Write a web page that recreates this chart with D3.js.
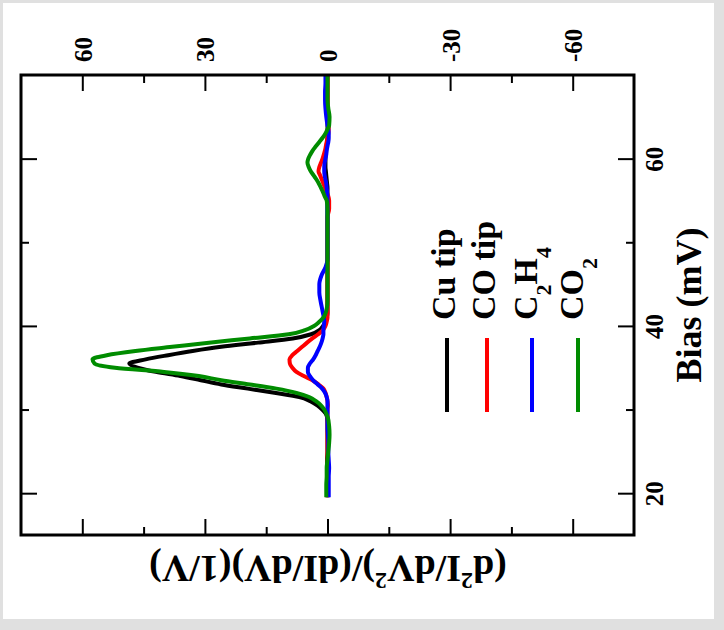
<!DOCTYPE html>
<html>
<head>
<meta charset="utf-8">
<script src="https://cdn.jsdelivr.net/npm/d3@7"></script>
<style>
  html, body { margin: 0; padding: 0; background: #e0e0e0; }
  svg { display: block; }
  text { font-family: "Liberation Serif", "Times New Roman", serif; font-weight: bold; fill: #000; }
</style>
</head>
<body>
<svg id="chart" width="724" height="630"></svg>
<script>
// ---------------- data ----------------
const bias = [19.5, 21, 22, 23, 24, 25, 26, 27, 28,
  29, 29.5, 30, 30.5, 31, 31.5, 32, 32.5, 33, 33.5, 34, 34.5, 35, 35.5, 36, 36.5, 37, 37.5, 38, 38.5, 39, 39.5, 40, 40.5, 41, 41.5, 42,
  43, 44, 45, 46, 47, 48, 49, 50, 51, 52, 53, 54, 55,
  55.5, 56, 56.5, 57, 57.5, 58, 58.5, 59, 59.5, 60, 60.5, 61, 61.5, 62, 62.5, 63, 63.5, 64,
  65, 66, 67, 68, 69, 70];

const cuTip = [0, 0, 0, 0.1, 0.1, 0, 0, 0, 0,
  0.1, 0.4, 1.3, 2.5, 4.2, 6.9, 13, 19.5, 26, 31, 36, 42, 46.5, 48.5, 44.5, 39, 33, 26, 17, 8.5, 4, 2, 1.1, 0.5, 0.2, 0, 0,
  0, 0, 0, 0, 0, 0, 0, 0, 0, 0, 0, 0, 0,
  0, 0, 0, 0.1, 0.2, 0.3, 0.4, 0.5, 0.5, 0.5, 0.4, 0.3, 0.2, 0.1, 0, 0, 0, 0,
  0, 0, 0, 0, 0, 0];

const coTip = [0, 0, 0, 0, 0, 0, 0, 0, 0,
  0, 0, 0, -0.1, 0, 0.2, 0.5, 1, 2.2, 3.7, 5.8, 7.6, 8.6, 9.2, 9.3, 8.6, 7.4, 6.2, 5, 3.7, 2.3, 1.1, 0.5, 0.2, 0, 0, 0,
  0, 0, 0, 0, 0, 0, 0, 0, 0, 0, 0, -0.4, -0.4,
  -0.2, 0.2, 0.6, 1.0, 1.4, 1.8, 2.2, 2.0, 1.6, 1.2, 0.9, 0.6, 0.4, 0.2, 0, -0.2, -0.3, -0.3,
  -0.1, 0, 0, 0, 0, 0];

const c2h4 = [-0.3, -0.3, -0.3, -0.4, -0.3, -0.2, -0.2, -0.1, 0,
  0, 0, 0, 0, 0, 0.2, 0.6, 1.3, 2.4, 3.5, 4.3, 4.8, 4.8, 4.3, 3.5, 2.9, 2.4, 1.9, 1.5, 1.2, 1.0, 1.0, 0.9, 0.8, 0.9, 1.1, 1.3,
  1.7, 2, 2, 1.5, 0.5, 0, 0, 0, 0, 0, 0, 0, 0,
  0, 0.1, 0.2, 0.3, 0.5, 0.7, 0.8, 0.8, 0.7, 0.5, 0.3, 0.2, 0, -0.2, -0.3, -0.3, -0.2, 0,
  0.3, 0.5, 0.6, 0.6, 0.5, 0.5];

const co2 = [0.3, 0.3, 0.2, 0.2, 0, -0.2, -0.4, -0.5, -0.4,
  -0.1, 0.3, 0.8, 1.6, 2.8, 4.5, 7.6, 12.5, 19, 26, 31.5, 40, 52, 57, 57.5, 54, 47, 38, 29, 19, 9.5, 5.5, 3.3, 2, 1, 0.5, 0.2,
  0, 0, 0, 0, 0, 0, 0, 0, 0, 0, 0, 0, 0.2,
  0.7, 1.1, 1.6, 2.1, 2.7, 3.4, 4.1, 4.6, 4.9, 4.7, 4.2, 3.6, 2.8, 2.0, 1.2, 0.5, 0, -0.4,
  -0.5, -0.2, 0, 0, 0, 0];

const seriesLabels = ["Cu tip", "CO tip", "C_2H_4", "CO_2"];
const seriesValues = [cuTip, coTip, c2h4, co2];
const seriesColors = ["#000000", "#ff0000", "#0000ff", "#008c00"];

const valueTicks = [60, 30, 0, -30, -60];
const valueMinorTicks = [45, 15, -15, -45];
const biasTicks = [20, 40, 60];
const biasMinorTicks = [30, 50];

const biasTitle = "Bias (mV)";

// ---------------- layout ----------------
(function draw() {
const W = 724, H = 630;
const pLeft = 21, pRight = 634, pTop = 75, pBottom = 535;

const svg = d3.select("#chart");
svg.append("rect").attr("x", 0).attr("y", 0).attr("width", W).attr("height", H).attr("fill", "#e0e0e0");
svg.append("rect").attr("x", 3).attr("y", 3).attr("width", 711).attr("height", 616).attr("fill", "#ffffff");

// value axis is horizontal (reversed), bias axis vertical
const x = d3.scaleLinear().domain([75, -75]).range([pLeft, pRight]);
const y = d3.scaleLinear().domain([15, 70]).range([pBottom, pTop]);

function styleAxis(g) {
  g.select(".domain").remove();
  g.selectAll(".tick line").attr("stroke", "#000").attr("stroke-width", 2);
}
const fontStyle = sel => sel
  .style("font-size", "25px")
  .style("font-family", "'Liberation Serif', 'Times New Roman', serif")
  .style("font-weight", "bold")
  .attr("fill", "#000");

// top axis with labels
const gTop = svg.append("g").attr("transform", `translate(0,${pTop})`)
  .call(d3.axisTop(x).tickValues(valueTicks).tickSizeInner(-16).tickSizeOuter(0).tickFormat(d => String(d)))
  .call(styleAxis);
gTop.selectAll(".tick text")
  .attr("transform", "rotate(-90)")
  .attr("x", 13).attr("y", 0).attr("dy", "0.36em")
  .attr("text-anchor", "start")
  .call(fontStyle);
svg.append("g").attr("transform", `translate(0,${pTop})`)
  .call(d3.axisTop(x).tickValues(valueMinorTicks).tickSizeInner(-8).tickSizeOuter(0).tickFormat(""))
  .call(styleAxis);

// bottom axis (mirror ticks)
svg.append("g").attr("transform", `translate(0,${pBottom})`)
  .call(d3.axisBottom(x).tickValues(valueTicks).tickSizeInner(-16).tickSizeOuter(0).tickFormat(""))
  .call(styleAxis);
svg.append("g").attr("transform", `translate(0,${pBottom})`)
  .call(d3.axisBottom(x).tickValues(valueMinorTicks).tickSizeInner(-8).tickSizeOuter(0).tickFormat(""))
  .call(styleAxis);

// right axis with labels
const gRight = svg.append("g").attr("transform", `translate(${pRight},0)`)
  .call(d3.axisRight(y).tickValues(biasTicks).tickSizeInner(-16).tickSizeOuter(0).tickFormat(d => String(d)))
  .call(styleAxis);
gRight.selectAll(".tick text")
  .attr("transform", "rotate(-90)")
  .attr("x", 0).attr("y", 29).attr("dy", 0)
  .attr("text-anchor", "middle")
  .call(fontStyle);
svg.append("g").attr("transform", `translate(${pRight},0)`)
  .call(d3.axisRight(y).tickValues(biasMinorTicks).tickSizeInner(-8).tickSizeOuter(0).tickFormat(""))
  .call(styleAxis);

// left axis (mirror ticks)
svg.append("g").attr("transform", `translate(${pLeft},0)`)
  .call(d3.axisLeft(y).tickValues(biasTicks).tickSizeInner(-16).tickSizeOuter(0).tickFormat(""))
  .call(styleAxis);
svg.append("g").attr("transform", `translate(${pLeft},0)`)
  .call(d3.axisLeft(y).tickValues(biasMinorTicks).tickSizeInner(-8).tickSizeOuter(0).tickFormat(""))
  .call(styleAxis);

// curves
const line = d3.line()
  .x(d => x(d.v))
  .y(d => y(d.b))
  .curve(d3.curveMonotoneY);

seriesValues.forEach((vals, i) => {
  const pts = bias.map((b, k) => ({ b: b, v: vals[k] })).reverse();
  svg.append("path")
    .datum(pts)
    .attr("d", line)
    .attr("fill", "none")
    .attr("stroke", seriesColors[i])
    .attr("stroke-width", 4)
    .attr("stroke-linejoin", "round");
});

// frame
svg.append("rect")
  .attr("x", pLeft).attr("y", pTop)
  .attr("width", pRight - pLeft).attr("height", pBottom - pTop)
  .attr("fill", "none").attr("stroke", "#000").attr("stroke-width", 3);

// legend (rotated)
const legendLineX = [447, 487, 532, 578];
const legendTextX = [455, 495, 537, 583];
function addRich(textSel, label, subSize, subShift) {
  const parts = label.split(/(_\w)/).filter(s => s.length);
  let shifted = false;
  parts.forEach(p => {
    if (p.startsWith("_")) {
      textSel.append("tspan").text(p.slice(1)).attr("dy", subShift).style("font-size", subSize);
      shifted = true;
    } else {
      const t = textSel.append("tspan").text(p);
      if (shifted) { t.attr("dy", -subShift); shifted = false; }
    }
  });
}
seriesLabels.forEach((lab, i) => {
  svg.append("line")
    .attr("x1", legendLineX[i]).attr("x2", legendLineX[i])
    .attr("y1", 338).attr("y2", 412)
    .attr("stroke", seriesColors[i]).attr("stroke-width", 4);
  const t = svg.append("text")
    .attr("transform", `translate(${legendTextX[i]},320) rotate(-90)`)
    .attr("text-anchor", "start")
    .style("font-size", "34px");
  addRich(t, lab, "22px", 14);
});

// bias title
svg.append("text")
  .attr("transform", "translate(701,305) rotate(-90)")
  .attr("text-anchor", "middle")
  .style("font-size", "36px")
  .text(biasTitle);

// value title (upside down)
const yt = svg.append("text")
  .attr("transform", "translate(328,556) rotate(180)")
  .attr("text-anchor", "middle")
  .style("font-size", "38px");
yt.append("tspan").text("(d");
yt.append("tspan").text("2").attr("dy", -17).style("font-size", "24px");
yt.append("tspan").text("I/dV").attr("dy", 17);
yt.append("tspan").text("2").attr("dy", -17).style("font-size", "24px");
yt.append("tspan").text(")/(dI/dV)(1/V)").attr("dy", 17);
})();
</script>
</body>
</html>
